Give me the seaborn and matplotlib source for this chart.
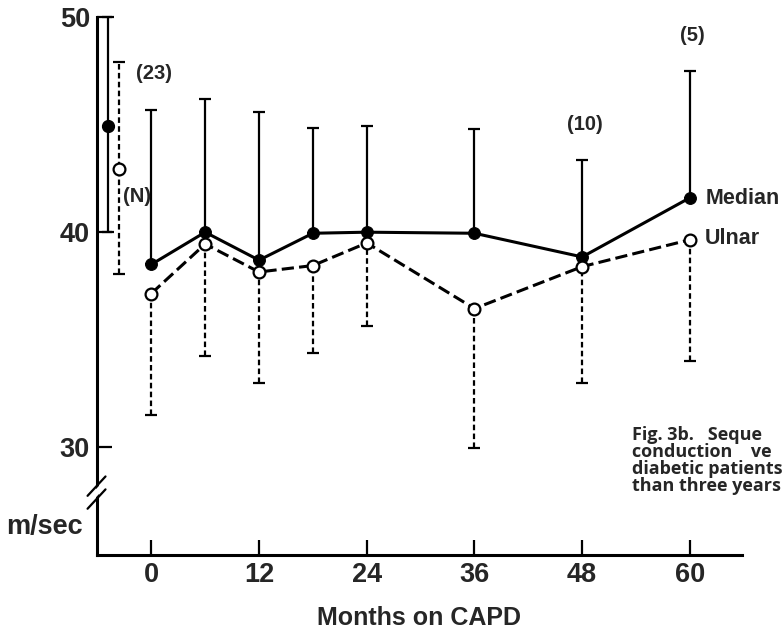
import numpy as np
import pandas as pd
import matplotlib
matplotlib.use('Agg')
import matplotlib.pyplot as plt
import seaborn as sns

# values (m/sec)
months = [0, 6, 12, 18, 24, 36, 48, 60]
median = [38.5, 40.0, 38.7, 39.95, 40.0, 39.95, 38.85, 41.6]
median_top = [45.7, 46.2, 45.6, 44.85, 44.95, 44.8, 43.35, 47.5]
ulnar = [37.15, 39.45, 38.15, 38.45, 39.5, 36.45, 38.4, 39.65]
ulnar_bottom = [31.5, 34.25, 33.0, 34.4, 35.65, 29.95, 33.0, 34.0]

# normal values (N), drawn left of month 0
normal_x = [-4.8, -3.6]
normal_mean = [44.95, 42.95]
normal_low = [40.0, 38.05]
normal_high = [50.0, 47.9]

n_labels = ['(23)', '(10)', '(5)']
n_months = [0, 48, 60]

caption = ['Fig. 3b.   Seque', 'conduction    ve', 'diabetic patients', 'than three years']

sns.set_theme(style='ticks')
plt.rcParams['font.family'] = ['Liberation Sans', 'DejaVu Sans']
plt.rcParams['font.weight'] = 'bold'

df = pd.DataFrame({'month': months, 'Median': median, 'Ulnar': ulnar})

fig = plt.figure(figsize=(7.84, 6.33), dpi=100)
ax = fig.add_axes([0.1237, 0.1232, 0.8227, 0.85])

# error bars: median upward (solid), ulnar downward (dashed)
med_err = np.array(median_top) - np.array(median)
eb = ax.errorbar(months, median, yerr=[np.zeros(len(months)), med_err], fmt='none',
                 ecolor='black', elinewidth=1.6, capsize=4.3, capthick=1.6, clip_on=False)
uln_err = np.array(ulnar) - np.array(ulnar_bottom)
eb2 = ax.errorbar(months, ulnar, yerr=[uln_err, np.zeros(len(months))], fmt='none',
                  ecolor='black', elinewidth=1.6, capsize=4.3, capthick=1.6, clip_on=False)
eb2[2][0].set_linestyle((0, (2.5, 1.5)))

# normal ranges
eb3 = ax.errorbar(normal_x[0], normal_mean[0],
                  yerr=[[normal_mean[0] - normal_low[0]], [normal_high[0] - normal_mean[0]]],
                  fmt='none', ecolor='black', elinewidth=1.6, capsize=4.3, capthick=1.6, clip_on=False)
eb4 = ax.errorbar(normal_x[1], normal_mean[1],
                  yerr=[[normal_mean[1] - normal_low[1]], [normal_high[1] - normal_mean[1]]],
                  fmt='none', ecolor='black', elinewidth=1.6, capsize=4.3, capthick=1.6, clip_on=False)
eb4[2][0].set_linestyle((0, (2.5, 1.5)))

# series lines
sns.lineplot(data=df, x='month', y='Median', ax=ax, color='black', lw=2.2,
             marker='o', markersize=8.5, markerfacecolor='black', markeredgecolor='black', zorder=3)
sns.lineplot(data=df, x='month', y='Ulnar', ax=ax, color='black', lw=2.2,
             dashes=(4, 1.7), marker='o', markersize=8.5, markerfacecolor='white',
             markeredgecolor='black', markeredgewidth=1.6, zorder=4)

ax.plot(normal_x[0], normal_mean[0], 'o', color='black', markersize=8.5, zorder=5)
ax.plot(normal_x[1], normal_mean[1], 'o', markerfacecolor='white', markeredgecolor='black',
        markeredgewidth=1.6, markersize=8.5, zorder=5)

ax.set_xlim(-6.05, 65.8)
ax.set_ylim(25, 50)
ax.set_xticks([0, 12, 24, 36, 48, 60])
ax.set_yticks([30, 40, 50])
ax.tick_params(direction='in', length=11, width=1.6, labelsize=19.5, pad=5, color='black')
sns.despine(ax=ax)
for s in ['left', 'bottom']:
    ax.spines[s].set_linewidth(2.2)
    ax.spines[s].set_color('black')
ax.set_xlabel('Months on CAPD', fontsize=18, fontweight='bold', va='center')
ax.xaxis.set_label_coords(0.5, (555 - 618) / 538)
ax.set_ylabel('')
ax.grid(False)

# axis break marks
ax.plot([-7.1, -5.1], [27.45, 28.35], color='white', lw=4, clip_on=False, zorder=6)
for dy in (-0.3, 0.3):
    ax.plot([-7.1, -5.1], [27.45 + dy, 28.35 + dy], color='black', lw=1.6, clip_on=False, zorder=7)

# unit label
ax.text(-7.6, 26.3, 'm/sec', fontsize=19.5, ha='right', va='center', clip_on=False)

# sample sizes
for lab, m in zip(n_labels, n_months):
    i = months.index(m)
    ax.text(m + 0.3, median_top[i] + 1.65, lab, fontsize=14.5, ha='center', va='center')
ax.text(-1.6, 41.65, '(N)', fontsize=14.5, ha='center', va='center')

ax.text(61.7, median[-1] - 0.05, 'Median', fontsize=15.5, ha='left', va='center')
ax.text(61.7, ulnar[-1] + 0.05, 'Ulnar', fontsize=15.5, ha='left', va='center')

# caption, cut at the right edge as in the source
for k, line in enumerate(caption):
    fig.text(632 / 784, 1 - (440 + 17 * k) / 633, line, fontsize=13,
             family=['Open Sans', 'DejaVu Sans'], fontweight='bold', ha='left', va='baseline')

fig.savefig('out.png', dpi=100)
